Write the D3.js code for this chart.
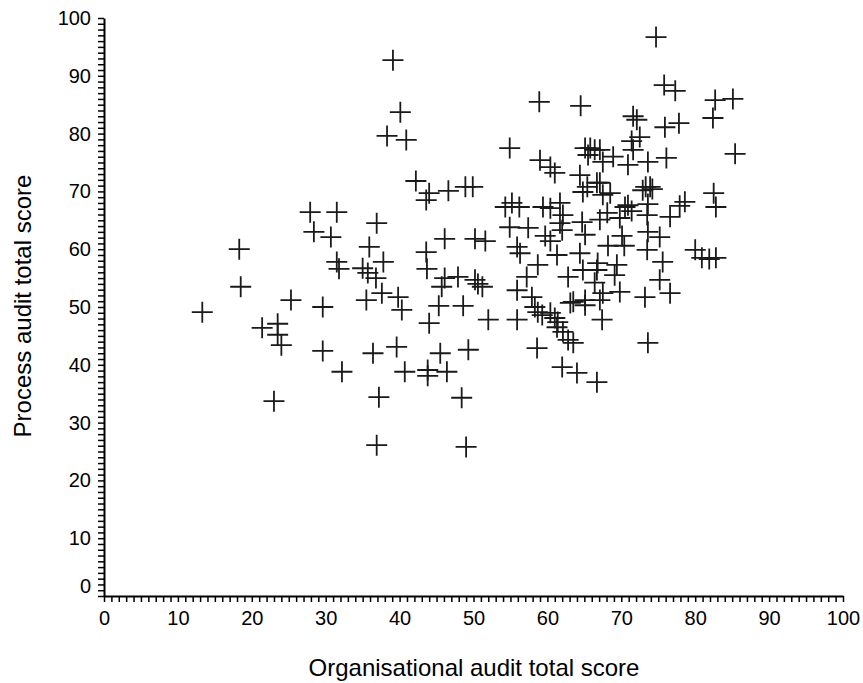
<!DOCTYPE html>
<html>
<head>
<meta charset="utf-8">
<script src="https://cdn.jsdelivr.net/npm/d3@7"></script>
<style>
  body { margin: 0; background: #fff; }
  text { font-family: "Liberation Sans", Arial, sans-serif; fill: #000; }
</style>
</head>
<body>
<div id="scatter"></div>
<script>
// Organisational (x) vs process (y) audit total scores
var orgScore = [
  13.3, 18.3, 18.5, 21.4, 23.5, 23.5, 24.0, 23.0, 25.3, 27.9, 31.5, 28.4, 30.7, 31.5, 31.8, 29.6, 29.6, 32.2,
  36.9, 35.9, 37.8, 35.0, 35.7, 36.8, 37.6, 35.5, 39.8, 40.3, 36.4, 39.6, 37.2, 36.9, 40.7, 43.8, 43.8, 46.4,
  45.5, 49.3, 48.4, 49.0, 44.0, 52.0, 55.9, 45.3, 48.6, 46.1, 45.7, 47.9, 50.2, 50.6, 51.2, 43.6, 43.7, 46.1,
  50.2, 51.6, 42.2, 44.0, 43.6, 46.6, 48.9, 49.9, 39.1, 40.1, 38.3, 40.9,
  58.9, 64.5, 54.9, 59.0, 60.4, 61.0, 65.1, 65.8, 66.4, 67.1, 65.5, 64.4, 65.4, 64.8, 66.7, 54.3, 55.2, 56.2,
  59.4, 60.4, 61.7, 62.1, 61.7, 62.0, 54.9, 57.4, 59.7, 60.4, 55.9, 56.3, 64.7, 65.1, 64.4, 61.3, 58.7, 57.2,
  62.8, 55.9, 57.9, 63.1, 65.1, 65.1, 58.3, 58.7, 59.3, 60.4, 61.0, 61.4, 61.3, 62.1, 62.8, 63.5, 58.6, 62.0,
  64.0, 66.7, 66.8, 66.4, 67.4,
  74.7, 75.8, 77.3, 82.7, 85.1, 82.4, 71.6, 72.1, 75.9, 77.8, 85.4, 71.4, 72.5, 71.6, 68.9, 70.9, 73.6, 76.1,
  67.5, 67.1, 68.5, 67.5, 73.3, 72.9, 73.9, 74.2, 73.6, 70.9, 70.5, 71.4, 73.5, 78.6, 77.9, 82.5, 82.8, 68.1,
  69.8, 76.6, 67.1, 73.6, 75.2, 70.1, 70.4, 68.2, 73.5, 80.0, 80.9, 81.9, 82.8,
  75.6, 64.8, 66.7, 69.4, 69.1, 75.2, 76.6, 73.2, 69.8, 67.5, 63.5, 67.1, 73.6
];
var processScore = [
  49.1, 60.0, 53.5, 46.4, 47.1, 45.2, 43.4, 33.7, 51.2, 66.4, 66.4, 63.0, 62.1, 57.8, 56.6, 50.0, 42.4, 38.8,
  64.5, 60.4, 57.8, 56.7, 55.9, 55.0, 52.4, 51.2, 51.7, 49.5, 42.0, 43.1, 34.4, 26.1, 38.8, 39.1, 38.1, 38.8,
  42.0, 42.6, 34.3, 25.8, 47.2, 47.8, 47.8, 50.2, 50.2, 55.0, 53.5, 55.2, 54.7, 54.0, 53.5, 59.5, 56.6, 61.8,
  61.8, 61.4, 71.8, 69.7, 68.5, 70.1, 70.8, 70.8, 92.7, 83.7, 79.6, 78.9,
  85.5, 84.8, 77.5, 75.4, 74.2, 73.2, 77.5, 77.5, 77.2, 77.2, 76.3, 72.8, 70.8, 69.9, 71.5, 67.3, 68.0, 67.3,
  67.3, 67.1, 68.0, 65.9, 64.5, 63.3, 63.8, 63.7, 62.3, 61.4, 60.4, 59.3, 64.7, 62.5, 59.3, 59.0, 57.3, 55.2,
  55.2, 52.9, 51.7, 50.7, 51.2, 50.3, 50.0, 49.1, 48.6, 49.0, 48.1, 47.4, 46.5, 45.7, 44.3, 43.8, 42.9, 39.6,
  38.6, 37.0, 57.6, 54.2, 47.8,
  96.7, 88.4, 87.4, 85.8, 86.0, 82.7, 83.0, 82.4, 81.1, 81.8, 76.5, 78.7, 79.4, 77.2, 76.0, 74.6, 75.1, 75.8,
  75.1, 71.5, 69.7, 69.4, 70.8, 70.2, 70.8, 70.4, 67.8, 67.6, 67.3, 66.6, 65.9, 68.2, 67.5, 69.7, 67.3, 66.3,
  65.4, 65.6, 65.1, 63.0, 62.1, 62.3, 60.6, 60.6, 59.9, 59.9, 58.5, 58.3, 58.5,
  57.8, 56.4, 56.4, 57.3, 55.5, 54.7, 52.4, 51.7, 52.6, 52.4, 50.9, 51.2, 43.8
];
var xTickLabels = [0, 10, 20, 30, 40, 50, 60, 70, 80, 90, 100];
var yTickLabels = [0, 10, 20, 30, 40, 50, 60, 70, 80, 90, 100];

var points = orgScore.map(function(x, i) { return { x: x, y: processScore[i] }; });

var svgWidth = 863;
var svgHeight = 683;

var svg = d3.select("#scatter")
  .append("svg")
  .attr("width", svgWidth)
  .attr("height", svgHeight);

svg.append("rect")
  .attr("width", svgWidth)
  .attr("height", svgHeight)
  .attr("fill", "#fff");

var xScale = d3.scaleLinear().domain([0, 100]).range([104, 843]);
var yScale = d3.scaleLinear().domain([0, 100]).range([596, 18]);

var minorTicks = d3.range(0, 101);

var xAxis = d3.axisBottom(xScale)
  .tickValues(minorTicks)
  .tickSize(6)
  .tickSizeOuter(0)
  .tickPadding(9)
  .tickFormat(function(d) { return xTickLabels.indexOf(d) >= 0 ? d : ""; });

var yAxis = d3.axisLeft(yScale)
  .tickValues(minorTicks)
  .tickSize(6)
  .tickSizeOuter(0)
  .tickPadding(7)
  .tickFormat(function(d) { return yTickLabels.indexOf(d) >= 0 ? d : ""; });

var gx = svg.append("g")
  .attr("transform", "translate(0, 596)")
  .call(xAxis);

var gy = svg.append("g")
  .attr("transform", "translate(104, 0)")
  .call(yAxis);

[gx, gy].forEach(function(g) {
  g.select(".domain").attr("stroke", "#000").attr("stroke-width", 2);
  g.selectAll(".tick line").attr("stroke", "#000").attr("stroke-width", 1.5);
  g.selectAll(".tick text")
    .style("font-size", "20px")
    .style("font-family", "'Liberation Sans', Arial, sans-serif")
    .attr("fill", "#000");
});

// the zero label on the y axis sits a bit higher than its tick
gy.selectAll(".tick text")
  .filter(function(d) { return d === 0; })
  .attr("dy", "-0.18em");

// crosses
svg.append("g")
  .selectAll("path")
  .data(points)
  .enter()
  .append("path")
  .attr("transform", function(d) { return "translate(" + xScale(d.x) + "," + yScale(d.y) + ")"; })
  .attr("d", "M-10.5,0H10.5M0,-10.5V10.5")
  .attr("stroke", "#1a1a1a")
  .attr("stroke-width", 1.8)
  .attr("fill", "none");

// axis titles
svg.append("text")
  .attr("transform", "translate(31, 306) rotate(-90)")
  .attr("text-anchor", "middle")
  .style("font-size", "24px")
  .text("Process audit total score");

svg.append("text")
  .attr("x", 474)
  .attr("y", 676)
  .attr("text-anchor", "middle")
  .style("font-size", "24px")
  .text("Organisational audit total score");
</script>
</body>
</html>
